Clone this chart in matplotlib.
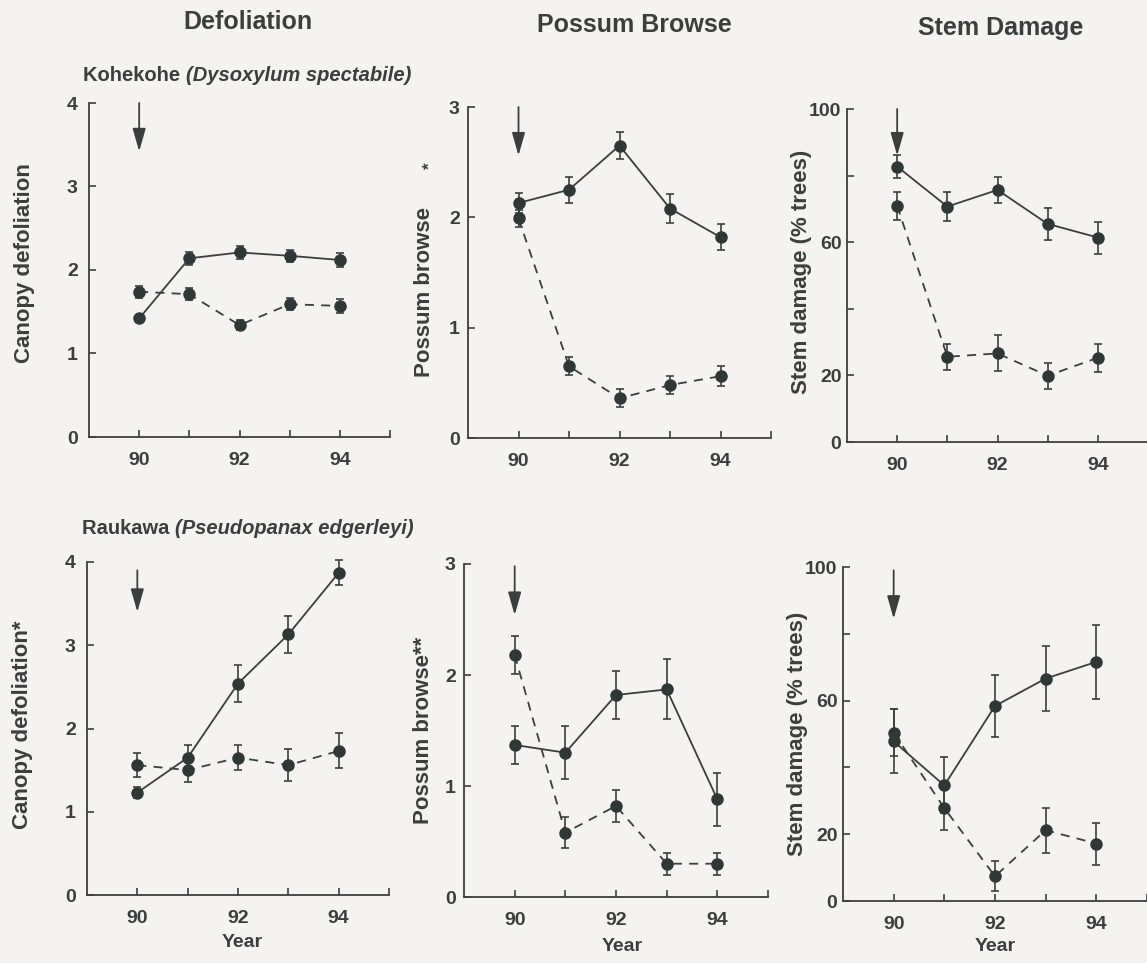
import matplotlib
matplotlib.use("Agg")
import matplotlib.pyplot as plt

plt.rcParams['font.family'] = ['Liberation Sans', 'DejaVu Sans']
plt.rcParams['font.weight'] = 'bold'
plt.rcParams['axes.labelweight'] = 'bold'

INK = '#3a3f3e'
MARK = '#2f3836'

years = [90, 91, 92, 93, 94]

# Kohekohe (Dysoxylum spectabile)
kohe_defol_solid = [1.42, 2.14, 2.21, 2.17, 2.12]
kohe_defol_solid_err = [0.04, 0.08, 0.08, 0.07, 0.08]
kohe_defol_dashed = [1.74, 1.71, 1.34, 1.59, 1.57]
kohe_defol_dashed_err = [0.07, 0.07, 0.06, 0.07, 0.08]

kohe_browse_solid = [2.13, 2.25, 2.65, 2.08, 1.82]
kohe_browse_solid_err = [0.09, 0.12, 0.12, 0.13, 0.12]
kohe_browse_dashed = [1.99, 0.65, 0.36, 0.48, 0.56]
kohe_browse_dashed_err = [0.08, 0.08, 0.08, 0.08, 0.09]

kohe_stem_solid = [82.7, 70.7, 75.7, 65.5, 61.4]
kohe_stem_solid_err = [3.5, 4.4, 4.0, 4.8, 4.8]
kohe_stem_dashed = [70.9, 25.6, 26.6, 19.9, 25.3]
kohe_stem_dashed_err = [4.2, 3.9, 5.4, 3.9, 4.2]

# Raukawa (Pseudopanax edgerleyi)
rauk_defol_solid = [1.23, 1.65, 2.54, 3.13, 3.87]
rauk_defol_solid_err = [0.07, 0.15, 0.22, 0.22, 0.15]
rauk_defol_dashed = [1.56, 1.50, 1.65, 1.56, 1.73]
rauk_defol_dashed_err = [0.14, 0.14, 0.15, 0.19, 0.21]

rauk_browse_solid = [1.37, 1.30, 1.82, 1.87, 0.88]
rauk_browse_solid_err = [0.17, 0.24, 0.22, 0.27, 0.24]
rauk_browse_dashed = [2.18, 0.58, 0.82, 0.30, 0.30]
rauk_browse_dashed_err = [0.17, 0.14, 0.14, 0.10, 0.10]

rauk_stem_solid = [47.8, 34.6, 58.4, 66.6, 71.6]
rauk_stem_solid_err = [9.6, 8.4, 9.4, 9.6, 11.0]
rauk_stem_dashed = [50.4, 27.8, 7.4, 21.2, 17.2]
rauk_stem_dashed_err = [7.0, 6.4, 4.5, 6.7, 6.3]

col_titles = ['Defoliation', 'Possum Browse', 'Stem Damage']
xtick_vals = [90, 91, 92, 93, 94, 95]
xtick_text = ['90', '', '92', '', '94', '']
small_ticks = [0, 1, 2, 3, 4]
browse_ticks = [0, 1, 2, 3]
stem_ticks = [0, 20, 40, 60, 80, 100]
stem_text = ['0', '20', '', '60', '', '100']

W, H = 1147, 963
fig = plt.figure(figsize=(W / 100, H / 100), dpi=100)
fig.patch.set_facecolor('#f4f3ef')


def rect(left, right, top, bottom):
    return [left / W, 1 - bottom / H, (right - left) / W, (bottom - top) / H]


def panel(r, solid, solid_err, dashed, dashed_err, ymax, yticks, ytext,
          arrow, ylabel, label_xy, ypad, year=None):
    ax = fig.add_axes(r)
    ax.set_facecolor('none')
    ax.errorbar(years, solid, yerr=solid_err, color=INK, lw=1.3,
                marker='o', ms=8, mfc=MARK, mec=MARK, ecolor=INK,
                elinewidth=1.2, capsize=3, capthick=1.2, clip_on=False)
    ax.errorbar(years, dashed, yerr=dashed_err, color=INK, lw=1.3,
                ls=(0, (5, 4)), marker='o', ms=8, mfc=MARK, mec=MARK,
                ecolor=INK, elinewidth=1.2, capsize=3, capthick=1.2,
                clip_on=False)
    ax.annotate('', xy=(90, arrow[1]), xytext=(90, arrow[0]),
                arrowprops=dict(arrowstyle='-|>,head_length=0.7,head_width=0.2',
                                color=INK, lw=1.3, mutation_scale=20,
                                shrinkA=0, shrinkB=0))
    ax.set_xlim(89, 95)
    ax.set_ylim(0, ymax)
    ax.set_xticks(xtick_vals)
    ax.set_xticklabels(xtick_text, fontweight='bold')
    ax.set_yticks(yticks)
    ax.set_yticklabels(ytext, fontweight='bold')
    for s in ['top', 'right']:
        ax.spines[s].set_visible(False)
    for s in ['left', 'bottom']:
        ax.spines[s].set_color(INK)
        ax.spines[s].set_linewidth(1.3)
    ax.tick_params(direction='in', length=5, width=1.2, colors=INK,
                   labelsize=14)
    ax.tick_params(axis='x', pad=11)
    ax.tick_params(axis='y', pad=ypad)
    ax.set_ylabel(ylabel, fontsize=16, color=INK, fontweight='bold')
    ax.yaxis.set_label_coords(*label_xy)
    if year is not None:
        ax.text(year[0], year[1], 'Year', transform=ax.transAxes,
                ha='center', va='center', fontsize=14, color=INK)
    return ax


panel(rect(89, 390, 103, 437), kohe_defol_solid, kohe_defol_solid_err,
      kohe_defol_dashed, kohe_defol_dashed_err, 4, small_ticks,
      [str(v) for v in small_ticks], (4.0, 3.42), 'Canopy defoliation',
      (-0.18, 0.52), 8)
panel(rect(468, 771, 107, 438), kohe_browse_solid, kohe_browse_solid_err,
      kohe_browse_dashed, kohe_browse_dashed_err, 3, browse_ticks,
      [str(v) for v in browse_ticks], (3.0, 2.56), 'Possum browse',
      (-0.11, 0.44), 6)
panel(rect(847, 1148, 109, 442), kohe_stem_solid, kohe_stem_solid_err,
      kohe_stem_dashed, kohe_stem_dashed_err, 100, stem_ticks, stem_text,
      (100, 86), 'Stem damage (% trees)', (-0.115, 0.51), 4)
panel(rect(87, 389, 562, 895), rauk_defol_solid, rauk_defol_solid_err,
      rauk_defol_dashed, rauk_defol_dashed_err, 4, small_ticks,
      [str(v) for v in small_ticks], (3.9, 3.4), 'Canopy defoliation*',
      (-0.18, 0.51), 8, year=(0.515, -0.144))
panel(rect(464, 768, 564, 897), rauk_browse_solid, rauk_browse_solid_err,
      rauk_browse_dashed, rauk_browse_dashed_err, 3, browse_ticks,
      [str(v) for v in browse_ticks], (2.98, 2.54), 'Possum browse**',
      (-0.10, 0.50), 6, year=(0.52, -0.15))
panel(rect(843, 1147, 567, 901), rauk_stem_solid, rauk_stem_solid_err,
      rauk_stem_dashed, rauk_stem_dashed_err, 100, stem_ticks, stem_text,
      (99, 84.5), 'Stem damage (% trees)', (-0.115, 0.50), 4,
      year=(0.50, -0.135))

# asterisk beside the top possum browse label
fig.text(430 / W, 1 - 166 / H, '*', rotation=90, fontsize=12, color=INK,
         ha='center', va='center')

for x, y, t in zip([248, 634, 1001], [22, 25, 28], col_titles):
    fig.text(x / W, 1 - y / H, t, ha='center', va='center', fontsize=18,
             color=INK)

renderer = fig.canvas.get_renderer()
for x, y, name, latin in [(83, 81, 'Kohekohe ', '(Dysoxylum spectabile)'),
                          (82, 534, 'Raukawa ', '(Pseudopanax edgerleyi)')]:
    t = fig.text(x / W, 1 - y / H, name, ha='left', va='baseline',
                 fontsize=14.5, color=INK)
    bb = t.get_window_extent(renderer)
    fig.text(bb.x1 / fig.bbox.width, 1 - y / H, latin, ha='left',
             va='baseline', fontsize=14.5, style='italic', color=INK)

fig.savefig('out.png', dpi=100, facecolor=fig.get_facecolor())
